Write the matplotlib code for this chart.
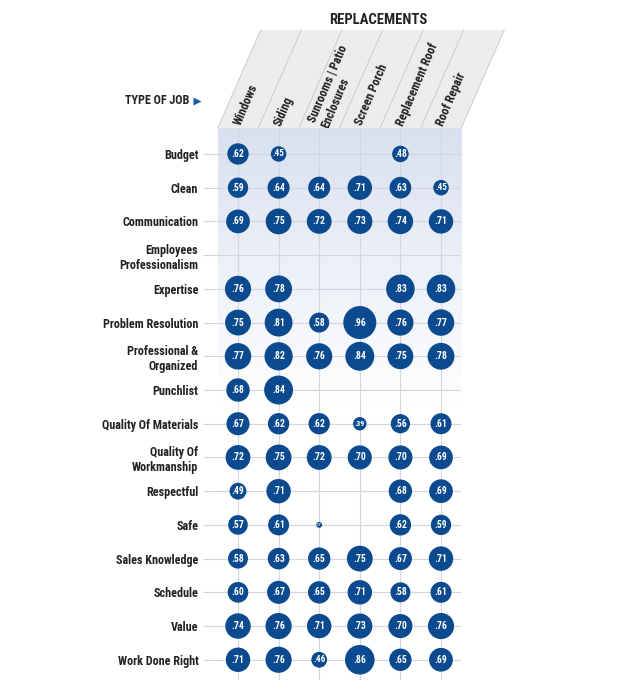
import numpy as np
import matplotlib.pyplot as plt
from matplotlib import transforms
from matplotlib.patches import Polygon

plt.rcParams['font.family'] = ['Roboto Condensed', 'DejaVu Sans']

# columns (type of job) and rows (rating factor)
jobs = ['Windows', 'Siding', 'Sunrooms | Patio\nEnclosures', 'Screen Porch',
        'Replacement Roof', 'Roof Repair']
factors = ['Budget', 'Clean', 'Communication', 'Employees\nProfessionalism',
           'Expertise', 'Problem Resolution', 'Professional &\nOrganized',
           'Punchlist', 'Quality Of Materials', 'Quality Of\nWorkmanship',
           'Respectful', 'Safe', 'Sales Knowledge', 'Schedule', 'Value',
           'Work Done Right']

nan = np.nan
windows = [.62, .59, .69, nan, .76, .75, .77, .68, .67, .72, .49, .57, .58, .60, .74, .71]
siding = [.45, .64, .75, nan, .78, .81, .82, .84, .62, .75, .71, .61, .63, .67, .76, .76]
sunrooms = [nan, .64, .72, nan, nan, .58, .76, nan, .62, .72, nan, .17, .65, .65, .71, .46]
screen_porch = [nan, .71, .73, nan, nan, .96, .84, nan, .39, .70, nan, nan, .75, .71, .73, .86]
replacement_roof = [.48, .63, .74, nan, .83, .76, .75, nan, .56, .70, .68, .62, .67, .58, .70, .65]
roof_repair = [nan, .45, .71, nan, .83, .77, .78, nan, .61, .69, .69, .59, .71, .61, .76, .69]

vals = np.array([windows, siding, sunrooms, screen_porch, replacement_roof, roof_repair])

BLUE = '#0b4a8e'
GRID = '#d3d6de'
DARK = '#222222'

W, H = 640, 693
fig = plt.figure(figsize=(W / 100, H / 100), dpi=100)

# background axes in pixel coordinates (header, titles)
bg = fig.add_axes([0, 0, 1, 1], zorder=0)
bg.set_xlim(0, W)
bg.set_ylim(H, 0)
bg.axis('off')

top, bottom, left, colw = 128, 680, 217.7, 40.6
ax = fig.add_axes([left / W, (H - bottom) / H, 6 * colw / W, (bottom - top) / H], zorder=1)
ylim = (15.6, -0.77)

# blue-to-white gradient behind the grid
n = 300
t = np.linspace(0, 1, n)[:, None]
fade = np.clip(t / 0.5, 0, 1)
c0 = np.array([0.85, 0.88, 0.94])
grad = c0 + (1 - c0) * fade
grad = np.repeat(grad[:, None, :], 2, axis=1)
ax.imshow(grad, extent=(-0.5, 5.5, ylim[0], ylim[1]), aspect='auto', zorder=0)
ax.set_xlim(-0.5, 5.5)
ax.set_ylim(*ylim)

for i in range(len(jobs)):
    ax.axvline(i, color=GRID, lw=0.8, zorder=1)
for j in range(len(factors)):
    ax.axhline(j, color=GRID, lw=0.8, zorder=1)

for s in ax.spines.values():
    s.set_visible(False)
ax.set_xticks([])
ax.set_yticks(range(len(factors)))
ax.set_yticklabels(factors, fontsize=8.7, fontweight='bold', color=DARK)
ax.tick_params(axis='y', length=11, color=GRID, width=0.8, pad=3)

# bubbles, radius (px) grows with the score
for i in range(len(jobs)):
    for j in range(len(factors)):
        v = vals[i, j]
        if np.isnan(v):
            continue
        r = 17.2 * v
        d = 2 * r * 0.72
        ax.scatter(i, j, s=d ** 2, color=BLUE, edgecolors='none', zorder=2)
        ax.text(i, j, f'{v:.2f}'[1:], ha='center', va='center', color='white',
                fontsize=min(7, r * 0.85), fontweight='bold', zorder=3)

# slanted header
trans = transforms.blended_transform_factory(ax.transData, bg.transData)
slant = 43 / colw
htop = 30
poly = Polygon([(-0.5, top), (5.5, top), (5.5 + slant, htop), (-0.5 + slant, htop)],
               closed=True, transform=trans, facecolor='#ececec', edgecolor='none')
bg.add_patch(poly)
for k in range(7):
    bg.plot([k - 0.5, k - 0.5 + slant], [top, htop], transform=trans,
            color='#c6c6c6', lw=0.6)
for i, lab in enumerate(jobs):
    bg.text(i - 0.02, top - 3, lab, transform=trans, rotation=67,
            rotation_mode='anchor', ha='left', va='center', fontsize=8.7,
            fontweight='bold', color=DARK, linespacing=1.1)

bg.text(378, 20, 'REPLACEMENTS', ha='center', va='center', fontsize=10.5,
        fontweight='bold', color=DARK)
bg.text(189, 101, 'TYPE OF JOB', ha='right', va='center', fontsize=8.7,
        fontweight='bold', color=DARK)
bg.plot(197, 101, marker='>', ms=6, color='#1b5ea6', mec='none')

fig.savefig('out.png', dpi=100)
